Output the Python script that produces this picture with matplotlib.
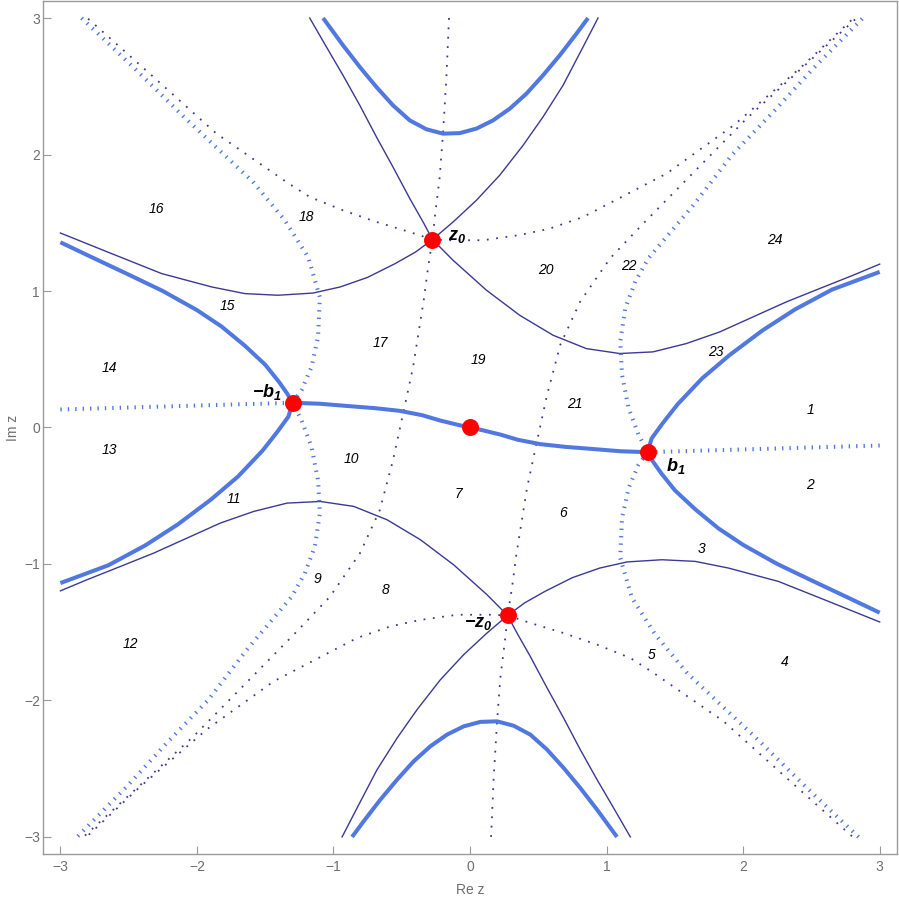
import matplotlib
matplotlib.use("Agg")
import matplotlib.pyplot as plt

plt.rcParams['mathtext.fontset'] = 'custom'
plt.rcParams['mathtext.bf'] = 'Liberation Sans:bold:italic'
plt.rcParams['mathtext.rm'] = 'Liberation Sans'
plt.rcParams['mathtext.it'] = 'Liberation Sans:italic'

BLUE = '#5078E0'
NAVY = '#3B3995'
GRAY = '#9a9a9a'
TXTGRAY = '#6e6e6e'

# ---- thick blue solid curves ----
left_hyp_x = [-3.0, -2.75, -2.50, -2.25, -2.0, -1.82, -1.65, -1.50, -1.40, -1.34, -1.30,
              -1.33, -1.41, -1.52, -1.70, -1.90, -2.14, -2.38, -2.65, -3.0]
left_hyp_y = [1.357, 1.238, 1.12, 1.0, 0.86, 0.74, 0.60, 0.46, 0.335, 0.25, 0.181,
              0.08, -0.03, -0.17, -0.36, -0.53, -0.71, -0.865, -1.01, -1.14]
right_hyp_x = [3.0, 2.75, 2.50, 2.25, 2.0, 1.82, 1.65, 1.50, 1.40, 1.34, 1.30,
               1.33, 1.41, 1.52, 1.70, 1.90, 2.14, 2.38, 2.65, 3.0]
right_hyp_y = [-1.357, -1.238, -1.12, -1.0, -0.86, -0.74, -0.60, -0.46, -0.335, -0.25, -0.181,
               -0.08, 0.03, 0.17, 0.36, 0.53, 0.71, 0.865, 1.01, 1.14]
mid_x = [-1.30, -1.10, -0.88, -0.70, -0.515, -0.35, -0.222, -0.10, 0.0,
         0.10, 0.222, 0.35, 0.515, 0.70, 0.88, 1.10, 1.30]
mid_y = [0.181, 0.174, 0.156, 0.142, 0.122, 0.09, 0.052, 0.022, 0.0,
         -0.022, -0.052, -0.09, -0.122, -0.142, -0.156, -0.174, -0.181]
top_cup_x = [-1.076, -0.930, -0.807, -0.685, -0.564, -0.441, -0.319, -0.198, -0.075,
             0.047, 0.168, 0.291, 0.413, 0.534, 0.657, 0.779, 0.864]
top_cup_y = [3.0, 2.80, 2.641, 2.494, 2.360, 2.250, 2.185, 2.153, 2.157,
             2.190, 2.250, 2.336, 2.446, 2.580, 2.727, 2.885, 3.0]
bot_cup_x = [1.076, 0.930, 0.807, 0.685, 0.564, 0.441, 0.319, 0.198, 0.075,
             -0.047, -0.168, -0.291, -0.413, -0.534, -0.657, -0.779, -0.864]
bot_cup_y = [-3.0, -2.80, -2.641, -2.494, -2.360, -2.250, -2.185, -2.153, -2.157,
             -2.190, -2.250, -2.336, -2.446, -2.580, -2.727, -2.885, -3.0]

# ---- thick blue dotted curves ----
hdot_left_x = [-3.0, -2.2, -1.30]
hdot_left_y = [0.132, 0.155, 0.181]
hdot_right_x = [3.0, 2.2, 1.30]
hdot_right_y = [-0.132, -0.155, -0.181]
vdot_left_x = [-2.845, -2.467, -2.10, -1.59, -1.357, -1.186, -1.100, -1.113, -1.161, -1.234, -1.30,
               -1.234, -1.161, -1.113, -1.100, -1.137, -1.210, -1.307, -1.637, -1.918, -2.223, -2.515, -2.877]
vdot_left_y = [3.0, 2.641, 2.28, 1.80, 1.518, 1.249, 0.956, 0.664, 0.444, 0.273, 0.181,
               0.053, -0.142, -0.386, -0.630, -0.874, -1.069, -1.241, -1.631, -1.997, -2.314, -2.632, -3.0]
vdot_right_x = [2.845, 2.467, 2.10, 1.59, 1.357, 1.186, 1.100, 1.113, 1.161, 1.234, 1.30,
                1.234, 1.161, 1.113, 1.100, 1.137, 1.210, 1.307, 1.637, 1.918, 2.223, 2.515, 2.877]
vdot_right_y = [-3.0, -2.641, -2.28, -1.80, -1.518, -1.249, -0.956, -0.664, -0.444, -0.273, -0.181,
                -0.053, 0.142, 0.386, 0.630, 0.874, 1.069, 1.241, 1.631, 1.997, 2.314, 2.632, 3.0]

# ---- thin navy solid curves ----
n1_x = [-1.174, -1.051, -0.930, -0.807, -0.685, -0.564, -0.441, -0.344, -0.275, -0.124, 0.120,
        0.364, 0.608, 0.852, 1.096, 1.34, 1.584, 1.828, 2.072, 2.316, 2.56, 2.804, 3.0]
n1_y = [3.0, 2.787, 2.580, 2.360, 2.128, 1.908, 1.677, 1.506, 1.377, 1.225, 1.006,
        0.822, 0.676, 0.578, 0.542, 0.554, 0.615, 0.700, 0.810, 0.920, 1.018, 1.115, 1.197]
n2_x = [-3.0, -2.625, -2.259, -1.893, -1.649, -1.406, -1.15, -0.95, -0.75, -0.55, -0.40, -0.275,
        -0.124, 0.047, 0.217, 0.388, 0.534, 0.681, 0.827, 0.937]
n2_y = [1.425, 1.274, 1.128, 1.030, 0.981, 0.969, 0.985, 1.03, 1.10, 1.20, 1.285, 1.377,
        1.506, 1.665, 1.848, 2.067, 2.275, 2.507, 2.787, 3.0]
n3_x = [1.174, 1.051, 0.930, 0.807, 0.685, 0.564, 0.441, 0.344, 0.275, 0.124, -0.120,
        -0.364, -0.608, -0.852, -1.096, -1.34, -1.584, -1.828, -2.072, -2.316, -2.56, -2.804, -3.0]
n3_y = [-3.0, -2.787, -2.580, -2.360, -2.128, -1.908, -1.677, -1.506, -1.377, -1.225, -1.006,
        -0.822, -0.676, -0.578, -0.542, -0.554, -0.615, -0.700, -0.810, -0.920, -1.018, -1.115, -1.197]
n4_x = [3.0, 2.625, 2.259, 1.893, 1.649, 1.406, 1.15, 0.95, 0.75, 0.55, 0.40, 0.275,
        0.124, -0.047, -0.217, -0.388, -0.534, -0.681, -0.827, -0.937]
n4_y = [-1.425, -1.274, -1.128, -1.030, -0.981, -0.969, -0.985, -1.03, -1.10, -1.20, -1.285, -1.377,
        -1.506, -1.665, -1.848, -2.067, -2.275, -2.507, -2.787, -3.0]

# ---- thin navy dotted curves ----
d1_x = [-2.797, -2.345, -1.857, -1.332, -1.174, -0.930, -0.685, -0.441, -0.275, -0.149, 0.095,
        0.364, 0.583, 0.827, 1.035, 1.438, 1.925, 2.414, 2.804]
d1_y = [2.995, 2.592, 2.153, 1.79, 1.689, 1.591, 1.506, 1.432, 1.377, 1.372, 1.372,
        1.410, 1.457, 1.542, 1.65, 1.86, 2.21, 2.63, 2.995]
d2_x = [-0.154, -0.173, -0.198, -0.222, -0.258, -0.275, -0.307, -0.339, -0.417, -0.49, -0.564,
        -0.661, -0.807, -1.027, -1.271, -2.028, -2.82]
d2_y = [3.0, 2.568, 2.153, 1.835, 1.542, 1.377, 1.176, 0.933, 0.444, 0.103, -0.239,
        -0.606, -0.923, -1.241, -1.497, -2.266, -2.99]
d3_x = [2.797, 2.345, 1.857, 1.332, 1.174, 0.930, 0.685, 0.441, 0.275, 0.149, -0.095,
        -0.364, -0.583, -0.827, -1.035, -1.438, -1.925, -2.414, -2.804]
d3_y = [-2.995, -2.592, -2.153, -1.79, -1.689, -1.591, -1.506, -1.432, -1.377, -1.372, -1.372,
        -1.410, -1.457, -1.542, -1.65, -1.86, -2.21, -2.63, -2.995]
d4_x = [0.154, 0.173, 0.198, 0.222, 0.258, 0.275, 0.307, 0.339, 0.417, 0.49, 0.564,
        0.661, 0.807, 1.027, 1.271, 2.028, 2.82]
d4_y = [-3.0, -2.568, -2.153, -1.835, -1.542, -1.377, -1.176, -0.933, -0.444, -0.103, 0.239,
        0.606, 0.923, 1.241, 1.497, 2.266, 2.99]

# ---- special points ----
pt_x = [-0.275, 0.275, 1.30, -1.30, 0.0]
pt_y = [1.377, -1.377, -0.181, 0.181, 0.0]

# ---- region numbers ----
region_ids = list(range(1, 25))
region_x = [2.494, 2.486, 1.696, 2.304, 1.329, 0.678, -0.083, -0.617, -1.115, -0.866, -1.73, -2.491,
            -2.638, -2.638, -1.774, -2.294, -0.654, -1.196, 0.064, 0.554, 0.766, 1.161, 1.799, 2.231]
region_y = [0.131, -0.42, -0.889, -1.719, -1.668, -0.628, -0.488, -1.191, -1.111, -0.233, -0.525, -1.588,
            -0.166, 0.435, 0.889, 1.6, 0.618, 1.54, 0.493, 1.152, 0.171, 1.18, 0.552, 1.372]

fig = plt.figure(figsize=(8.99, 8.98), dpi=100)
ax = fig.add_axes([0.0482, 0.049, 0.9493, 0.9499])
ax.set_xlim(-3.125, 3.125)
ax.set_ylim(-3.125, 3.125)

dotted_thin = dict(color=NAVY, lw=1.3, linestyle=(0, (1.0, 4.2)), dash_capstyle='butt', zorder=2)
for xs, ys in [(d1_x, d1_y), (d2_x, d2_y), (d3_x, d3_y), (d4_x, d4_y)]:
    ax.plot(xs, ys, **dotted_thin)

for xs, ys in [(n1_x, n1_y), (n2_x, n2_y), (n3_x, n3_y), (n4_x, n4_y)]:
    ax.plot(xs, ys, color=NAVY, lw=1.0, zorder=3, solid_joinstyle='round')

dotted_thick = dict(color=BLUE, lw=2.9, linestyle=(0, (0.34, 1.5)), dash_capstyle='butt', zorder=4)
for xs, ys in [(hdot_left_x, hdot_left_y), (hdot_right_x, hdot_right_y),
               (vdot_left_x, vdot_left_y), (vdot_right_x, vdot_right_y)]:
    ax.plot(xs, ys, **dotted_thick)

for xs, ys in [(left_hyp_x, left_hyp_y), (right_hyp_x, right_hyp_y), (mid_x, mid_y),
               (top_cup_x, top_cup_y), (bot_cup_x, bot_cup_y)]:
    ax.plot(xs, ys, color=BLUE, lw=2.9, solid_capstyle='butt', solid_joinstyle='round', zorder=5)

ax.plot(pt_x, pt_y, 'o', color='#ff0000', ms=12.2, mec='none', zorder=6)

for rid, rx, ry in zip(region_ids, region_x, region_y):
    ax.text(rx, ry, str(rid), fontsize=10, style='italic', family='Liberation Sans',
            ha='center', va='center', color='black', zorder=7)

lab = dict(fontsize=13, color='black', zorder=7)
ax.text(-0.163, 1.40, r'$\mathbf{z_0}$', ha='left', va='center', **lab)
ax.text(0.168, -1.43, r'$\mathbf{-z_0}$', ha='right', va='center', **lab)
ax.text(1.438, -0.28, r'$\mathbf{b_1}$', ha='left', va='center', **lab)
ax.text(-1.378, 0.26, r'$\mathbf{-b_1}$', ha='right', va='center', **lab)

ticks = [-3, -2, -1, 0, 1, 2, 3]
ax.set_xticks(ticks)
ax.set_yticks(ticks)
ax.set_xticklabels(['\u22123', '\u22122', '\u22121', '0', '1', '2', '3'])
ax.set_yticklabels(['\u22123', '\u22122', '\u22121', '0', '1', '2', '3'])
ax.tick_params(direction='in', length=6, width=0.8, color=GRAY, labelcolor=TXTGRAY,
               labelsize=10)
ax.tick_params(axis='x', pad=4)
ax.tick_params(axis='y', pad=2.5)
for lbl in ax.get_xticklabels() + ax.get_yticklabels():
    lbl.set_family('Liberation Sans')
for sp in ax.spines.values():
    sp.set_color(GRAY)
    sp.set_linewidth(1.0)

ax.set_xlabel('Re z', fontsize=10, color=TXTGRAY, family='Liberation Sans', labelpad=7)
ax.set_ylabel('Im z', fontsize=10, color=TXTGRAY, family='Liberation Sans', labelpad=3)

fig.savefig('out.png', dpi=100)
